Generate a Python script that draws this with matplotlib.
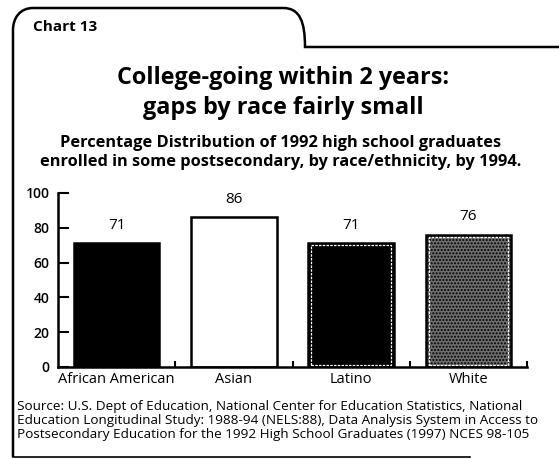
import numpy as np
import matplotlib
matplotlib.use("Agg")
import matplotlib.pyplot as plt
from matplotlib.path import Path
from matplotlib.patches import PathPatch

plt.rcParams['font.family'] = ['Open Sans', 'DejaVu Sans']

# data
groups = ['African American', 'Asian', 'Latino', 'White']
pct = [71, 86, 71, 76]
yticks = [0, 20, 40, 60, 80, 100]

fig = plt.figure(figsize=(5.59, 4.59), dpi=100)

# decorative frame, in pixel coordinates
bg = fig.add_axes([0, 0, 1, 1])
bg.set_xlim(0, 559)
bg.set_ylim(459, 0)
bg.axis('off')
verts = [(13, 457), (13, 30), (13, 18), (20, 8), (33, 8),
         (283, 8), (300, 8), (305, 22), (305, 47), (559, 47)]
codes = [Path.MOVETO, Path.LINETO, Path.CURVE4, Path.CURVE4, Path.CURVE4,
         Path.LINETO, Path.CURVE4, Path.CURVE4, Path.CURVE4, Path.LINETO]
bg.add_patch(PathPatch(Path(verts, codes), fill=False, lw=1.8, color='black'))
bg.plot([13, 470], [457, 457], color='black', lw=1.2)

bg.text(33, 27, 'Chart 13', fontsize=11, fontweight='bold', va='center')
bg.text(283, 84, 'College-going within 2 years:', fontsize=16.8,
        fontweight='bold', ha='center', va='baseline')
bg.text(283, 114, 'gaps by race fairly small', fontsize=16.8,
        fontweight='bold', ha='center', va='baseline')
bg.text(281, 147, 'Percentage Distribution of 1992 high school graduates',
        fontsize=11.8, fontweight='bold', ha='center', va='baseline')
bg.text(281, 166, 'enrolled in some postsecondary, by race/ethnicity, by 1994.',
        fontsize=11.8, fontweight='bold', ha='center', va='baseline')

src = ('Source: U.S. Dept of Education, National Center for Education Statistics, National\n'
       'Education Longitudinal Study: 1988-94 (NELS:88), Data Analysis System in Access to\n'
       'Postsecondary Education for the 1992 High School Graduates (1997) NCES 98-105')
bg.text(17, 400, src, fontsize=9.7, ha='left', va='top', linespacing=1.12)

ax = fig.add_axes([58 / 559, 1 - 367 / 459, (527 - 58) / 559, (367 - 193) / 459])
x = np.arange(len(groups))
faces = ['black', 'white', 'black', '#6e6e6e']
hatches = [None, None, None, '.....']
for i in range(len(groups)):
    ax.bar(x[i], pct[i], width=0.73, color=faces[i], edgecolor='black',
           linewidth=1.8, hatch=hatches[i])
    ax.text(x[i], pct[i] + 6, str(pct[i]), ha='center', va='bottom', fontsize=11)
# thin white inner outline on the Latino and White bars
for i in [2, 3]:
    ax.bar(x[i], pct[i] - 2.2, bottom=1.1, width=0.68, fill=False,
           edgecolor='white', linewidth=0.9, linestyle=(0, (2, 1)))

ax.set_xlim(-0.5, 3.5)
ax.set_ylim(0, 100)
ax.set_yticks(yticks)
ax.set_yticklabels([str(t) for t in yticks], fontsize=10, fontweight='semibold')
ax.set_xticks(x)
ax.set_xticklabels(groups, fontsize=10.5)
ax.tick_params(axis='x', length=0, pad=3.5)
ax.tick_params(axis='y', direction='in', length=8, width=1.5, pad=6)
# small boundary ticks on the x axis
ax.set_xticks([0.5, 1.5, 2.5, 3.5], minor=True)
ax.tick_params(axis='x', which='minor', direction='in', length=4, width=1.5)
for s in ['top', 'right']:
    ax.spines[s].set_visible(False)
ax.spines['left'].set_linewidth(1.8)
ax.spines['bottom'].set_linewidth(1.8)

fig.savefig('out.png', dpi=100)
